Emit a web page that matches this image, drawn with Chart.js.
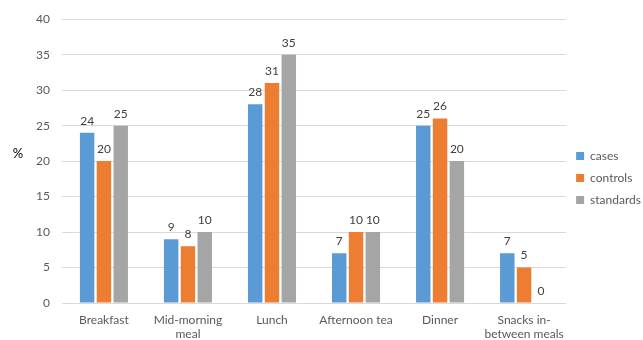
<!DOCTYPE html>
<html>
<head>
<meta charset="utf-8">
<script src="https://cdn.jsdelivr.net/npm/chart.js@4/dist/chart.umd.min.js"></script>
<style>
  html, body { margin: 0; padding: 0; background: #fff; }
  #wrap { width: 643px; height: 340px; position: relative; }
</style>
</head>
<body>
<div id="wrap"><canvas id="chart"></canvas></div>
<script>
const categories = ["Breakfast", ["Mid-morning", "meal"], "Lunch", "Afternoon tea", "Dinner", ["Snacks in-", "between meals"]];
const cases = [24, 9, 28, 7, 25, 7];
const controls = [20, 8, 31, 10, 26, 5];
const standards = [25, 10, 35, 10, 20, 0];
const yTicks = [0, 5, 10, 15, 20, 25, 30, 35, 40];

const FONT = "Lato, 'Open Sans', 'Liberation Sans', sans-serif";

const valueLabels = {
  id: "valueLabels",
  afterDatasetsDraw(chart) {
    const ctx = chart.ctx;
    ctx.save();
    ctx.fillStyle = "#404040";
    ctx.font = "12px " + FONT;
    ctx.textAlign = "center";
    ctx.textBaseline = "bottom";
    chart.data.datasets.forEach((ds, i) => {
      chart.getDatasetMeta(i).data.forEach((bar, j) => {
        ctx.fillText(String(ds.data[j]), bar.x, bar.y - 6);
      });
    });
    ctx.restore();
  },
};

const percentTitle = {
  id: "percentTitle",
  afterDraw(chart) {
    const { ctx, chartArea } = chart;
    ctx.save();
    ctx.fillStyle = "#000";
    ctx.font = "13px " + FONT;
    ctx.textAlign = "center";
    ctx.textBaseline = "middle";
    ctx.fillText("%", 18, chartArea.top + 135);
    ctx.restore();
  },
};

new Chart(document.getElementById("chart"), {
  type: "bar",
  data: {
    labels: categories,
    datasets: [
      { label: "cases", data: cases, backgroundColor: "#5b9bd5" },
      { label: "controls", data: controls, backgroundColor: "#ed7d31" },
      { label: "standards", data: standards, backgroundColor: "#a5a5a5" },
    ],
  },
  options: {
    responsive: true,
    maintainAspectRatio: false,
    animation: false,
    layout: { padding: { left: 24, top: 16, right: -8, bottom: 0 } },
    datasets: { bar: { categoryPercentage: 0.6, barPercentage: 0.86 } },
    scales: {
      x: {
        grid: { display: false },
        border: { display: false },
        ticks: { color: "#595959", font: { size: 12, family: FONT }, padding: 2, maxRotation: 0, autoSkip: false },
        afterFit(axis) { axis.height = 37; },
      },
      y: {
        min: 0,
        max: 40,
        afterBuildTicks(axis) { axis.ticks = yTicks.map((v) => ({ value: v })); },
        grid: { color: "#d9d9d9", drawTicks: false },
        border: { display: false },
        ticks: { color: "#595959", font: { size: 12, family: FONT }, padding: 12 },
      },
    },
    plugins: {
      legend: {
        position: "right",
        labels: { boxWidth: 8, boxHeight: 8, color: "#595959", font: { size: 12, family: FONT }, padding: 10 },
      },
      tooltip: { enabled: false },
    },
  },
  plugins: [valueLabels, percentTitle],
});
</script>
</body>
</html>
